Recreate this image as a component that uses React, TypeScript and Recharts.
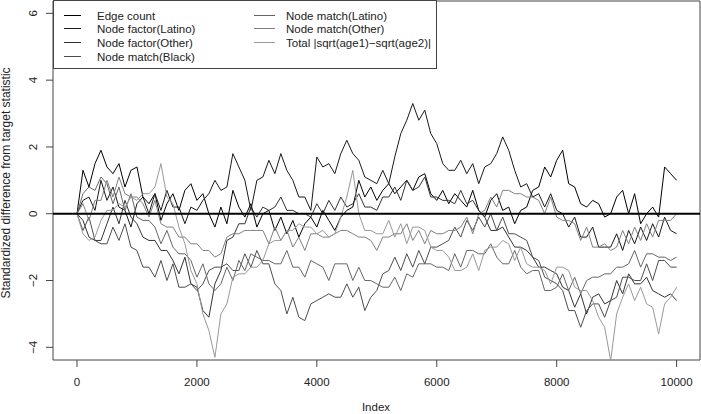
import React from 'react';
import { LineChart, Line, XAxis, YAxis, ReferenceLine, ReferenceArea, Legend } from 'recharts';

// MCMC diagnostic: standardized difference from target statistic, sampled every 100 steps
const idx = [
  0, 100, 200, 300, 400, 500, 600, 700, 800, 900,
  1000, 1100, 1200, 1300, 1400, 1500, 1600, 1700, 1800, 1900,
  2000, 2100, 2200, 2300, 2400, 2500, 2600, 2700, 2800, 2900,
  3000, 3100, 3200, 3300, 3400, 3500, 3600, 3700, 3800, 3900,
  4000, 4100, 4200, 4300, 4400, 4500, 4600, 4700, 4800, 4900,
  5000, 5100, 5200, 5300, 5400, 5500, 5600, 5700, 5800, 5900,
  6000, 6100, 6200, 6300, 6400, 6500, 6600, 6700, 6800, 6900,
  7000, 7100, 7200, 7300, 7400, 7500, 7600, 7700, 7800, 7900,
  8000, 8100, 8200, 8300, 8400, 8500, 8600, 8700, 8800, 8900,
  9000, 9100, 9200, 9300, 9400, 9500, 9600, 9700, 9800, 9900,
  10000,
];

const edgeCount = [
  0.0, 1.3, 0.8, 1.5, 1.9, 1.4, 1.2, 1.5, 0.8, 1.3,
  1.4, 0.5, 0.3, 0.6, -0.2, 0.3, 0.6, 0.1, 0.7, 0.9,
  0.4, 0.6, 0.0, -0.4, 0.2, -0.3, 0.7, 0.2, -0.1, 0.3,
  -0.4, 0.0, 0.1, -0.5, -0.1, -0.6, -0.2, -0.7, -0.3, -0.1,
  -0.4, 0.1, -0.2, -0.5, -0.1, 0.1, 0.2, 1.0, 0.5, 0.8,
  0.4, 0.7, 0.9, 0.6, 0.8, 1.0, 0.7, 1.1, 1.2, 0.6,
  0.4, 0.7, 0.3, 0.6, 0.4, 0.2, 0.7, 0.1, -0.1, 0.4,
  0.6, 0.1, 0.2, -0.3, 0.1, 0.2, 0.7, 0.8, 1.4, 1.1,
  1.6, 1.9, 0.9, 0.8, 0.3, 0.2, 0.4, 0.3, -0.1, 0.0,
  0.5, 0.7, 0.0, 0.6, -0.3, 0.0, 0.2, -0.1, 1.4, 1.2,
  1.0,
];

const factorLatino = [
  0.0, 0.4, 0.5, 0.1, 1.0, 0.4, 0.8, 0.2, 0.1, -0.4,
  0.3, 0.5, 0.0, 0.6, 0.1, 0.7, 0.2, 0.2, -0.3, 0.2,
  0.1, 0.4, 0.6, 1.0, 0.7, 0.8, 1.8, 1.4, 1.0, 0.1,
  1.0, 1.1, 1.6, 1.2, 1.8, 1.3, 1.0, 0.5, 0.5, 0.1,
  1.7, 1.4, 1.5, 1.2, 1.8, 2.2, 1.8, 1.6, 1.1, 1.0,
  0.9, 1.3, 0.9, 1.7, 2.4, 2.8, 3.3, 2.8, 3.1, 2.4,
  2.1, 1.5, 1.3, 1.3, 1.6, 1.2, 1.5, 0.9, 1.4, 1.5,
  1.8, 2.3, 1.9, 1.3, 0.8, 0.9, 0.5, 0.6, 0.2, 0.6,
  0.1, 0.0, -0.4, -0.1, -0.7, -0.7, -0.4, -1.0, -1.0, -1.0,
  -0.6, -1.1, -0.5, -0.9, -0.4, -0.8, -0.3, -0.7, -0.1, -0.5,
  -0.6,
];

const factorOther = [
  0.0, -0.2, -0.7, -0.8, -0.8, -0.3, 0.2, -0.3, 0.4, -0.1,
  -0.3, -0.7, -0.8, -0.8, -1.1, -1.1, -1.4, -1.8, -1.3, -2.1,
  -2.2, -2.9, -3.1, -2.1, -1.7, -0.8, -0.7, -0.3, -0.3, 0.2,
  -0.1, 0.2, 0.1, 0.2, 0.5, 0.1, 0.1, 0.0, 0.0, -0.1,
  0.3, 0.0, 0.4, 0.1, 0.5, 0.2, 0.3, 0.6, 0.2, 0.2,
  0.1, 0.5, 0.5, 0.8, 0.4, 1.0, 0.7, 0.8, 1.1, 0.5,
  0.5, 0.4, 0.4, 0.3, 0.7, 0.3, 0.4, 0.1, -0.1, -0.5,
  -0.5, -0.4, -0.7, -1.0, -1.0, -1.1, -1.3, -1.6, -1.6, -1.7,
  -1.8, -2.2, -2.3, -2.8, -2.4, -3.0, -2.5, -2.4, -2.7, -2.6,
  -2.0, -2.4, -1.8, -2.1, -2.1, -1.9, -2.3, -2.4, -2.5, -2.4,
  -2.6,
];

const matchBlack = [
  0.0, -0.5, -0.1, -0.8, -0.9, -0.9, -0.4, -0.8, -0.3, -1.0,
  -1.1, -1.6, -1.6, -1.9, -1.4, -2.0, -1.5, -2.2, -2.2, -2.1,
  -2.3, -2.1, -1.7, -1.6, -1.6, -1.5, -1.7, -1.7, -1.2, -1.6,
  -1.1, -1.5, -1.5, -2.1, -2.3, -3.0, -2.5, -3.1, -3.2, -2.7,
  -2.6, -2.5, -2.4, -2.5, -2.5, -2.1, -2.5, -2.2, -2.9, -2.5,
  -2.3, -1.8, -1.7, -1.3, -1.7, -1.2, -1.6, -1.1, -1.5, -1.0,
  -1.0, -0.9, -0.8, -0.4, -0.7, -0.2, -0.5, -0.1, -0.4, 0.0,
  -0.5, -0.1, -0.6, -0.6, -0.7, -0.8, -1.3, -1.4, -1.9, -2.0,
  -2.1, -2.3, -2.9, -2.9, -3.4, -2.9, -2.7, -2.7, -3.1, -2.6,
  -2.5, -1.9, -1.9, -2.0, -2.0, -1.5, -2.0, -1.4, -1.4, -1.6,
  -1.6,
];

const matchLatino = [
  0.0, 0.6, 0.8, 0.7, 1.1, 0.9, 0.3, 0.8, 0.1, 0.6,
  -0.1, -0.2, -0.2, -0.4, -0.9, -0.5, -1.0, -1.2, -1.2, -1.4,
  -1.9, -1.5, -2.1, -2.3, -2.1, -1.6, -2.0, -1.4, -1.7, -1.2,
  -1.3, -1.4, -1.4, -1.5, -1.5, -1.1, -1.6, -1.6, -1.9, -1.4,
  -1.5, -1.6, -2.0, -1.5, -1.5, -1.5, -2.0, -1.6, -2.0, -2.0,
  -2.1, -2.2, -2.2, -1.9, -2.3, -1.8, -1.9, -1.5, -1.5, -1.5,
  -1.6, -1.6, -1.7, -1.2, -1.6, -1.1, -1.1, -1.2, -1.2, -0.9,
  -1.3, -1.5, -1.5, -1.1, -1.6, -1.8, -1.7, -1.7, -2.3, -2.3,
  -2.2, -1.8, -2.3, -1.9, -2.4, -2.0, -1.9, -1.9, -1.8, -1.8,
  -1.6, -1.6, -1.5, -1.1, -1.6, -1.2, -1.2, -1.3, -1.3, -1.4,
  -1.3,
];

const matchOther = [
  0.0, 0.3, -0.2, 0.4, 0.4, 1.0, 0.5, 1.1, 0.6, 0.5,
  0.5, 0.3, -0.1, 0.4, -0.3, -0.4, -0.4, -0.7, -0.7, -0.9,
  -0.9, -1.1, -1.1, -1.3, -1.2, -0.7, -0.6, -0.6, -0.5, -0.5,
  -0.5, -0.5, -0.9, -0.4, -0.8, -0.5, -1.0, -0.7, -1.1, -0.6,
  -0.6, -0.7, -0.7, -0.6, -0.5, -0.5, -0.6, -0.7, -0.7, -0.8,
  -1.1, -0.7, -0.7, -0.6, -0.6, -0.3, -0.8, -0.5, -0.9, -0.5,
  -0.6, -0.6, -0.5, -0.5, -0.4, -0.1, -0.6, 0.0, 0.1, 0.5,
  0.2, 0.7, 0.7, 0.6, 0.6, 0.5, 0.5, 0.4, 0.0, 0.5,
  -0.1, -0.2, -0.2, -0.3, -0.8, -0.4, -1.0, -1.0, -0.9, -1.1,
  -1.0, -0.5, -0.9, -0.4, -0.8, -0.3, -0.7, -0.2, -0.2, -0.2,
  0.0,
];

const totalAge = [
  0.0, -0.6, -0.8, -0.7, -0.2, 0.1, 0.1, 0.3, 0.2, 0.5,
  0.4, 0.6, 0.6, 0.8, 1.5, 0.5, 0.3, -0.4, -0.9, -1.7,
  -2.1, -3.0, -3.5, -4.3, -3.0, -2.7, -1.9, -1.8, -1.8, -1.6,
  -1.6, -1.4, -0.9, -0.8, -0.8, -0.5, -0.5, -0.3, -0.4, -0.4,
  -0.6, -0.5, -0.7, -0.6, -0.1, 0.5, 1.3, 0.0, -0.5, -0.5,
  -0.6, -0.6, -0.2, -0.7, -0.3, -0.9, -0.4, -0.4, -0.5, -1.0,
  -1.1, -1.1, -1.3, -1.7, -1.7, -1.6, -1.2, -1.7, -1.1, -1.0,
  -1.0, -0.8, -0.9, -1.4, -1.0, -1.5, -1.6, -1.6, -1.7, -2.1,
  -1.6, -1.6, -1.7, -2.2, -2.3, -2.3, -2.6, -3.1, -3.4, -4.4,
  -3.0, -2.5, -2.1, -2.6, -2.2, -2.7, -2.8, -3.6, -2.7, -2.5,
  -2.2,
];

const seriesNames = [
  'Edge count',
  'Node factor(Latino)',
  'Node factor(Other)',
  'Node match(Black)',
  'Node match(Latino)',
  'Node match(Other)',
  'Total |sqrt(age1)\u2212sqrt(age2)|',
];
const seriesValues = [edgeCount, factorLatino, factorOther, matchBlack, matchLatino, matchOther, totalAge];
const seriesColors = ['#000000', '#1a1a1a', '#333333', '#4d4d4d', '#666666', '#808080', '#999999'];

const xTicks = [0, 2000, 4000, 6000, 8000, 10000];
const yTicks = [-4, -2, 0, 2, 4, 6];

const data = idx.map((x, i) => {
  const row: Record<string, number> = { idx: x };
  seriesValues.forEach((s, k) => {
    row[`s${k}`] = s[i];
  });
  return row;
});

const FONT = '"Liberation Sans", Arial, Helvetica, sans-serif';
const INK = '#222';
const X_MIN = -400;
const X_MAX = 10390;
const Y_MIN = -4.38;
const Y_MAX = 6.37;

const fmt = (v: number) => (v < 0 ? `\u2212${Math.abs(v)}` : `${v}`);

const XTick = (props: any) => {
  const { x, y, payload } = props;
  return (
    <text x={x} y={y + 19} textAnchor="middle" fontSize={11.5} fill={INK} fontFamily={FONT}>
      {payload.value}
    </text>
  );
};

const YTick = (props: any) => {
  const { y, payload } = props;
  return (
    <text
      transform={`translate(36.7, ${y}) rotate(-90)`}
      textAnchor="middle"
      fontSize={11.5}
      fill={INK}
      fontFamily={FONT}
    >
      {fmt(payload.value)}
    </text>
  );
};

const LegendBox = () => {
  const rowY = (r: number) => 14.6 + r * 13.8;
  return (
    <div
      style={{
        position: 'relative',
        width: 384,
        height: 69,
        border: '1px solid #444',
        boxSizing: 'border-box',
        background: '#fff',
        fontFamily: FONT,
        fontSize: 11.5,
        color: INK,
      }}
    >
      {seriesNames.map((name, i) => {
        const col = i < 4 ? 0 : 1;
        const row = col === 0 ? i : i - 4;
        const lineLeft = col === 0 ? 10 : 200;
        const lineW = col === 0 ? 17 : 21;
        const textLeft = col === 0 ? 43 : 232;
        return (
          <React.Fragment key={name}>
            <div
              style={{
                position: 'absolute',
                left: lineLeft,
                top: rowY(row) - 1,
                width: lineW,
                height: 1,
                background: seriesColors[i],
              }}
            />
            <div
              style={{
                position: 'absolute',
                left: textLeft,
                top: rowY(row) - 7,
                lineHeight: '14px',
                whiteSpace: 'nowrap',
              }}
            >
              {name}
            </div>
          </React.Fragment>
        );
      })}
    </div>
  );
};

export default function App() {
  return (
    <div style={{ position: 'absolute', left: 0, top: 0, width: 701, height: 414, background: '#fff' }}>
      <LineChart width={701} height={414} data={data} margin={{ top: 1, right: 1, bottom: 0, left: 0 }}>
        <XAxis
          dataKey="idx"
          type="number"
          domain={[X_MIN, X_MAX]}
          ticks={xTicks}
          allowDataOverflow
          height={54}
          axisLine={false}
          tickLine={{ stroke: '#444' }}
          tickSize={7}
          tickMargin={0}
          tick={XTick}
          label={{
            content: () => (
              <text x={376} y={411} textAnchor="middle" fontSize={11.5} fill={INK} fontFamily={FONT}>
                Index
              </text>
            ),
          }}
        />
        <YAxis
          type="number"
          domain={[Y_MIN, Y_MAX]}
          ticks={yTicks}
          allowDataOverflow
          width={53}
          axisLine={false}
          tickLine={{ stroke: '#444' }}
          tickSize={7}
          tickMargin={0}
          tick={YTick}
          label={{
            content: () => (
              <text
                transform="translate(10.3, 183) rotate(-90)"
                textAnchor="middle"
                fontSize={12}
                fill={INK}
                fontFamily={FONT}
              >
                Standardized difference from target statistic
              </text>
            ),
          }}
        />
        {seriesNames.map((name, k) => (
          <Line
            key={name}
            dataKey={`s${k}`}
            name={name}
            stroke={seriesColors[k]}
            strokeWidth={1}
            dot={false}
            activeDot={false}
            isAnimationActive={false}
            type="linear"
          />
        ))}
        <ReferenceLine y={0} stroke="#000" strokeWidth={2} />
        <ReferenceArea x1={X_MIN} x2={X_MAX} y1={Y_MIN} y2={Y_MAX} fill="none" stroke="#444" strokeWidth={1} />
        <Legend
          layout="vertical"
          align="center"
          verticalAlign="middle"
          wrapperStyle={{ position: 'absolute', left: 53, top: 0, width: 384, height: 69 }}
          content={() => <LegendBox />}
        />
      </LineChart>
    </div>
  );
}
